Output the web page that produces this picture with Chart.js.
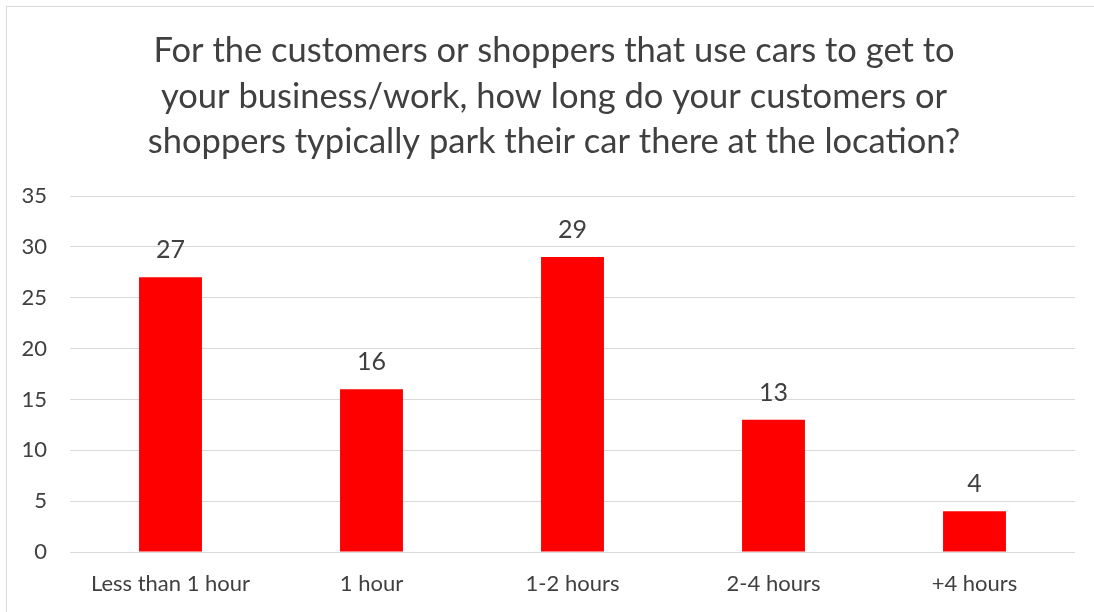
<!DOCTYPE html>
<html>
<head>
<meta charset="utf-8">
<script src="https://cdn.jsdelivr.net/npm/chart.js@4/dist/chart.umd.min.js"></script>
<style>
  html, body { margin: 0; padding: 0; background: #fff; }
  #wrap { position: relative; width: 1094px; height: 612px; overflow: hidden; }
  #frame { position: absolute; left: 6px; top: 6px; width: 1100px; height: 620px; border: 1px solid #d9d9d9; box-sizing: border-box; }
  canvas { position: absolute; left: 0; top: 0; }
</style>
</head>
<body>
<div id="wrap">
  <div id="frame"></div>
  <canvas id="chart" width="1094" height="612"></canvas>
</div>
<script>
// chart data
const categories = ['Less than 1 hour', '1 hour', '1-2 hours', '2-4 hours', '+4 hours'];
const counts = [27, 16, 29, 13, 4];
const titleLines = [
  'For the customers or shoppers that use cars to get to',
  'your business/work, how long do your customers or',
  'shoppers typically park their car there at the location?'
];

const FONT = 'Lato, "Open Sans", sans-serif';
const TEXT = '#404040';

// title, centred on the whole frame rather than the plot
const chartTitle = {
  id: 'chartTitle',
  afterDraw(chart) {
    const ctx = chart.ctx;
    ctx.save();
    ctx.font = '34.5px ' + FONT;
    ctx.fillStyle = TEXT;
    ctx.textAlign = 'center';
    ctx.textBaseline = 'middle';
    titleLines.forEach((line, i) => ctx.fillText(line, 554, 51 + i * 45.5));
    ctx.restore();
  }
};

// value labels above bars
const barLabels = {
  id: 'barLabels',
  afterDatasetsDraw(chart) {
    const ctx = chart.ctx;
    const meta = chart.getDatasetMeta(0);
    ctx.save();
    ctx.font = '25px ' + FONT;
    ctx.fillStyle = TEXT;
    ctx.textAlign = 'center';
    ctx.textBaseline = 'middle';
    meta.data.forEach((bar, i) => {
      ctx.fillText(String(counts[i]), bar.x, bar.y - 27);
    });
    ctx.restore();
  }
};

new Chart(document.getElementById('chart'), {
  type: 'bar',
  data: {
    labels: categories,
    datasets: [{
      data: counts,
      backgroundColor: '#ff0000',
      borderWidth: 0,
      categoryPercentage: 1,
      barPercentage: 0.313
    }]
  },
  options: {
    responsive: false,
    animation: false,
    layout: { padding: { left: 6, right: 19, top: 196, bottom: 15 } },
    plugins: {
      legend: { display: false },
      tooltip: { enabled: false },
      title: { display: false }
    },
    scales: {
      x: {
        grid: { display: false, drawTicks: false },
        border: { display: false },
        ticks: { color: TEXT, font: { family: FONT, size: 22 }, padding: 19 },
        afterFit: s => { s.height = 45; }
      },
      y: {
        min: 0,
        max: 35,
        ticks: { stepSize: 5, color: TEXT, font: { family: FONT, size: 22 }, padding: 23 },
        grid: { color: '#d9d9d9', lineWidth: 1, drawTicks: false },
        border: { display: false },
        afterFit: s => { s.width = 64; }
      }
    }
  },
  plugins: [barLabels, chartTitle]
});
</script>
</body>
</html>
